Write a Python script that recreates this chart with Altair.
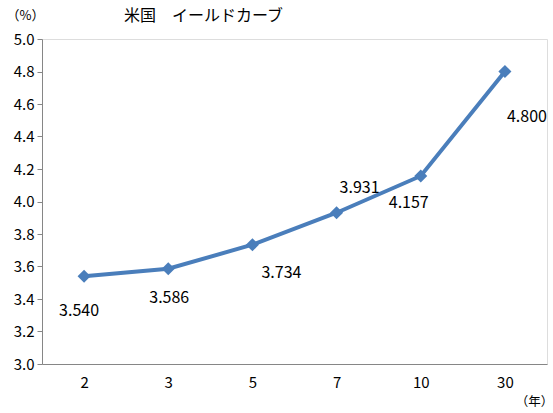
import altair as alt
import pandas as pd

maturities = ["2", "3", "5", "7", "10", "30"]
yields = [3.540, 3.586, 3.734, 3.931, 4.157, 4.800]
y_ticks = [3.0, 3.2, 3.4, 3.6, 3.8, 4.0, 4.2, 4.4, 4.6, 4.8, 5.0]

df = pd.DataFrame({"m": maturities, "y": yields})
df["label"] = [f"{v:.3f}" for v in yields]

FONT = "Noto Sans CJK JP"
BLUE = "#4a7ebb"

x_scale = alt.Scale(type="point", padding=0.5)
y_scale = alt.Scale(domain=[3.0, 5.0], nice=False, zero=False)

x_enc = alt.X("m:N", sort=maturities, scale=x_scale,
              axis=alt.Axis(title="（年）", titleAngle=0, titleX=492, titleY=37,
                            titleAlign="center", titleBaseline="middle",
                            titleFontWeight="normal", titleFontSize=12.5, titleFont=FONT,
                            labelAngle=0, labelFont=FONT, labelFontSize=15, labelColor="#000",
                            labelPadding=11, ticks=False, domainColor="#868686",
                            titleColor="#000"))
y_enc = alt.Y("y:Q", scale=y_scale,
              axis=alt.Axis(title="（%）", titleAngle=0, titleX=-17, titleY=-24,
                            titleAlign="center", titleBaseline="middle",
                            titleFontWeight="normal", titleFontSize=13, titleFont=FONT,
                            values=y_ticks, format=".1f", grid=False, labelOverlap=False,
                            labelFont=FONT, labelFontSize=15, labelColor="#000",
                            tickSize=5, tickColor="#868686", domainColor="#868686",
                            labelPadding=3, titleColor="#000"))

base = alt.Chart(df).encode(x=x_enc, y=y_enc)
line = base.mark_line(color=BLUE, strokeWidth=4)
pts = base.mark_point(shape="diamond", filled=True, size=170, color=BLUE, opacity=1)

offsets = {"2": (-5, 35), "3": (1, 29), "5": (29, 28), "7": (23, -25),
           "10": (-12, 27), "30": (22, 45)}
labels = []
for m, (dx, dy) in offsets.items():
    labels.append(
        base.transform_filter(alt.datum.m == m)
        .mark_text(font=FONT, fontSize=16, color="#000", dx=dx, dy=dy)
        .encode(text="label:N")
    )

chart = alt.layer(line, pts, *labels).properties(
    width=505, height=325,
    title=alt.TitleParams("米国　イールドカーブ", anchor="start", dx=118, offset=-15,
                          font=FONT, fontSize=16, fontWeight="normal", color="#000"),
    autosize=alt.AutoSizeParams(type="none"),
    padding={"left": 42, "top": 39, "right": 6, "bottom": 49},
).configure_view(stroke="#000", strokeWidth=1).configure(background="white")

chart.save("out.html", embed_options={"renderer": "svg", "actions": False})
